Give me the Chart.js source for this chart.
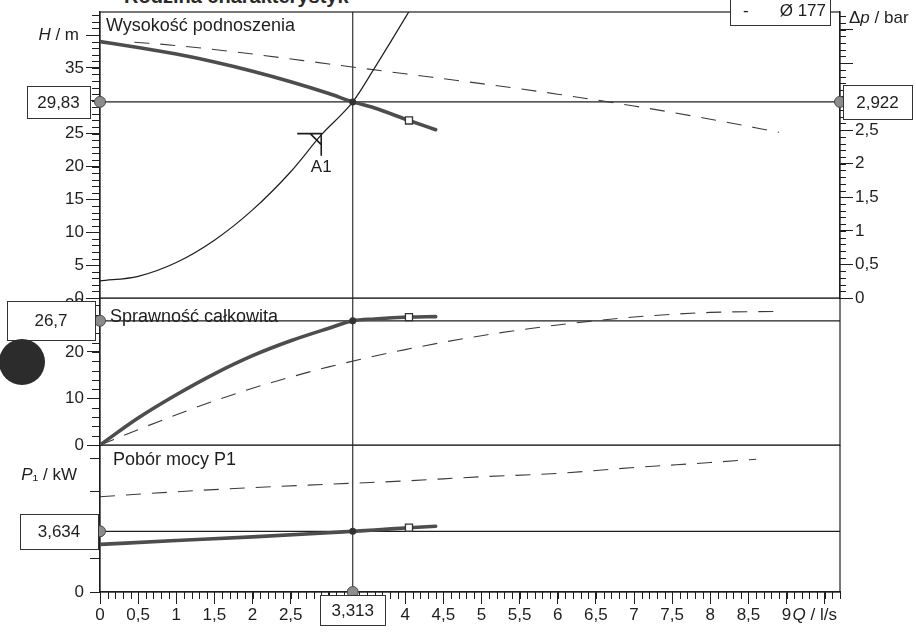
<!DOCTYPE html>
<html lang="pl">
<head>
<meta charset="utf-8">
<title>Rodzina charakterystyk</title>
<script src="https://cdn.jsdelivr.net/npm/chart.js@4.4.1/dist/chart.umd.min.js"></script>
<style>
  html, body { margin: 0; padding: 0; background: #fff; }
  body { position: relative; width: 916px; height: 632px; overflow: hidden; font-family: "Liberation Sans", Arial, sans-serif; }
  canvas { position: absolute; left: 0; }
  #title { position: absolute; left: 124px; top: -15px; font-size: 20px; font-weight: bold; color: #2a2a2a; white-space: nowrap; }
  #hole { position: absolute; left: -1px; top: 339px; width: 46px; height: 46px; border-radius: 50%; background: #2c2c2c; }
</style>
</head>
<body>
<div id="title">Rodzina charakterystyk</div>
<canvas id="chart-h" width="916" height="310" style="top:0"></canvas>
<canvas id="chart-eta" width="916" height="160" style="top:298px"></canvas>
<canvas id="chart-p" width="916" height="187" style="top:445px"></canvas>
<div id="hole"></div>
<script>
const INK = '#1e1e1e';
const CURVE = '#4d4d4d';
const FONT = '"Liberation Sans", Arial, sans-serif';

// axis ranges
const Q_MAX = 9.7;
const H_MAX = 43.5;
const ETA_MAX = 31.6;
const P1_MAX = 8.8;

// operating point and markers
const OP_Q = 3.313;
const OP_H = 29.83;
const OP_DP = 2.922;
const OP_ETA = 26.7;
const OP_P1 = 3.634;
const END_Q = 4.05;
const A1 = [2.9, 25.0];
const IMPELLER = 'Ø 177';
const DP_PER_M = OP_DP / OP_H;

// head H / m
const hQ = [0, 0.5, 1, 1.5, 2, 2.5, 3, 3.313, 3.6, 4.05, 4.4];
const hPump = [39.0, 38.1, 37.1, 35.9, 34.5, 32.9, 31.1, 29.83, 28.9, 27.0, 25.6];
const hMaxQ = [0.45, 1, 2, 3, 4, 5, 6, 7, 8, 8.9];
const hMax = [38.9, 38.4, 37.1, 35.6, 34.1, 32.6, 31.0, 29.2, 27.2, 25.2];
const sysQ = [0, 0.5, 1, 1.5, 2, 2.5, 2.9, 3.313, 3.6, 4.0, 4.15];
const sysH = [2.6, 3.3, 5.4, 8.8, 13.4, 19.2, 24.8, 29.83, 35.0, 42.6, 45.5];

// efficiency eta / %
const etaQ = [0, 0.5, 1, 1.5, 2, 2.5, 3, 3.313, 3.6, 4.05, 4.4];
const etaPump = [0, 5.8, 10.8, 15.3, 19.2, 22.4, 25.1, 26.7, 27.1, 27.5, 27.6];
const etaMaxQ = [0, 0.5, 1, 1.5, 2, 2.5, 3, 4, 5, 6, 7, 8, 8.9];
const etaMax = [0, 3.3, 6.5, 9.5, 12.2, 14.6, 16.8, 20.5, 23.5, 25.8, 27.5, 28.5, 28.7];

// power P1 / kW
const pQ = [0, 1, 2, 3, 3.313, 3.6, 4.05, 4.4];
const pPump = [2.85, 3.08, 3.3, 3.55, 3.634, 3.71, 3.85, 3.94];
const pMaxQ = [0, 1, 2, 3, 4, 5, 6, 7, 8, 8.6];
const pMax = [5.7, 6.0, 6.25, 6.45, 6.65, 6.9, 7.1, 7.45, 7.75, 7.95];

const fmt = v => String(Math.round(v * 1000) / 1000).replace('.', ',');
const pts = (xs, ys) => xs.map((x, i) => ({ x, y: ys[i] }));
const at = (xs, ys, q) => ys[xs.indexOf(q)];

// dataset styles
const solid = data => ({ data, borderColor: CURVE, borderWidth: 3.6, pointRadius: 0, cubicInterpolationMode: 'monotone', borderCapStyle: 'round' });
const dashed = data => ({ data, borderColor: '#3a3a3a', borderWidth: 1.1, borderDash: [15, 11], pointRadius: 0, cubicInterpolationMode: 'monotone' });
const hair = data => ({ data, borderColor: INK, borderWidth: 1.2, pointRadius: 0, cubicInterpolationMode: 'monotone' });
const endSquare = p => ({ data: [p], showLine: false, pointStyle: 'rect', pointRadius: 5, pointBackgroundColor: '#fff', pointBorderColor: '#333', pointBorderWidth: 1.3 });
const opDot = p => ({ data: [p], showLine: false, pointStyle: 'circle', pointRadius: 3.5, pointBackgroundColor: '#333', pointBorderWidth: 0 });
const axisDots = data => ({ data, showLine: false, clip: false, pointStyle: 'circle', pointRadius: 5.5, pointBackgroundColor: '#8c8c8c', pointBorderColor: '#4a4a4a', pointBorderWidth: 1 });

function fixSize(w, h) {
  return scale => {
    if (w) scale.width = w;
    if (h) scale.height = h;
    scale.paddingTop = scale.paddingBottom = scale.paddingLeft = scale.paddingRight = 0;
  };
}

function yAxis(pos, min, max, step, tickLen, pad, width, cb) {
  return {
    type: 'linear', position: pos, min, max,
    afterFit: fixSize(width, 0),
    border: { display: true, color: INK, width: 1.2 },
    grid: { drawOnChartArea: false, drawTicks: true, tickLength: tickLen, color: INK, lineWidth: 1 },
    ticks: { stepSize: step, includeBounds: false, padding: pad, color: INK, font: { family: FONT, size: 17 }, callback: cb }
  };
}

const hiddenX = () => ({ type: 'linear', min: 0, max: Q_MAX, display: false });

function minorTicks(ctx, scale, step, len, side) {
  const a = scale.chart.chartArea;
  ctx.save();
  ctx.strokeStyle = INK;
  ctx.lineWidth = 1;
  ctx.beginPath();
  const n = Math.floor(scale.max / step + 1e-6);
  for (let i = Math.ceil(scale.min / step - 1e-6); i <= n; i++) {
    const p = Math.round(scale.getPixelForValue(i * step)) + 0.5;
    if (side === 'left') { ctx.moveTo(a.left - len, p); ctx.lineTo(a.left, p); }
    else if (side === 'right') { ctx.moveTo(a.right, p); ctx.lineTo(a.right + len, p); }
    else { ctx.moveTo(p, a.bottom); ctx.lineTo(p, a.bottom + len); }
  }
  ctx.stroke();
  ctx.restore();
}

function frame(ctx, a) {
  ctx.save();
  ctx.strokeStyle = INK;
  ctx.lineWidth = 1.2;
  ctx.strokeRect(a.left, a.top, a.right - a.left, a.bottom - a.top);
  ctx.restore();
}

function opLine(chart) {
  const { ctx, chartArea: a, scales: { x } } = chart;
  const px = x.getPixelForValue(OP_Q);
  ctx.save();
  ctx.strokeStyle = INK;
  ctx.lineWidth = 1.1;
  ctx.beginPath();
  ctx.moveTo(px, a.top);
  ctx.lineTo(px, a.bottom);
  ctx.stroke();
  ctx.restore();
}

// text made of plain / italic parts
function label(ctx, parts, x, y, align, size) {
  size = size || 17;
  ctx.save();
  ctx.fillStyle = INK;
  ctx.textBaseline = 'middle';
  ctx.textAlign = 'left';
  const fonts = parts.map(p => (p[1] ? 'italic ' : '') + size + 'px ' + FONT);
  const widths = parts.map((p, i) => { ctx.font = fonts[i]; return ctx.measureText(p[0]).width; });
  const total = widths.reduce((s, w) => s + w, 0);
  let cx = align === 'right' ? x - total : align === 'center' ? x - total / 2 : x;
  parts.forEach((p, i) => { ctx.font = fonts[i]; ctx.fillText(p[0], cx, y); cx += widths[i]; });
  ctx.restore();
}

function box(ctx, text, cx, cy, w, h) {
  ctx.save();
  const x0 = Math.round(cx - w / 2) + 0.5, y0 = Math.round(cy - h / 2) + 0.5;
  ctx.fillStyle = '#fff';
  ctx.fillRect(x0, y0, w, h);
  ctx.strokeStyle = '#333';
  ctx.lineWidth = 1;
  ctx.strokeRect(x0, y0, w, h);
  ctx.restore();
  if (text) label(ctx, [[text, false]], cx, cy + 1, 'center');
}

function makeChart(id, yid, datasets, scales, padding, draw) {
  datasets.forEach(d => { d.yAxisID = yid; });
  return new Chart(document.getElementById(id), {
    type: 'line',
    data: { datasets },
    options: {
      responsive: false,
      animation: false,
      devicePixelRatio: 1,
      layout: { padding, autoPadding: false },
      plugins: { legend: { display: false }, tooltip: { enabled: false } },
      scales
    },
    plugins: [draw]
  });
}

// --- Wysokość podnoszenia ---
makeChart('chart-h', 'yH', [
  opDot({ x: OP_Q, y: OP_H }),
  endSquare({ x: END_Q, y: at(hQ, hPump, END_Q) }),
  axisDots([{ x: 0, y: OP_H }, { x: Q_MAX, y: OP_H }]),
  solid(pts(hQ, hPump)),
  hair(pts(sysQ, sysH)),
  dashed(pts(hMaxQ, hMax)),
  hair([{ x: 0, y: OP_H }, { x: Q_MAX, y: OP_H }])
], {
  x: hiddenX(),
  yH: yAxis('left', 0, H_MAX, 5, 14, 2, 100, v => v >= 40 ? '' : fmt(v)),
  yDp: yAxis('right', 0, H_MAX * DP_PER_M, 0.5, 13, 2, 76, v => v <= 2.5 ? fmt(v) : '')
}, { top: 12, bottom: 12, left: 0, right: 0 }, {
  id: 'panelH',
  beforeDatasetsDraw(chart) {
    const { ctx, chartArea: a, scales } = chart;
    frame(ctx, a);
    minorTicks(ctx, scales.yH, 1, 8, 'left');
    minorTicks(ctx, scales.yDp, 0.1, 6, 'right');
    opLine(chart);
    // duty point A1
    const px = scales.x.getPixelForValue(A1[0]), py = scales.yH.getPixelForValue(A1[1]);
    ctx.save();
    ctx.strokeStyle = INK;
    ctx.lineWidth = 1.6;
    ctx.beginPath();
    ctx.moveTo(px - 24, py); ctx.lineTo(px, py); ctx.lineTo(px, py + 22);
    ctx.moveTo(px - 11, py); ctx.lineTo(px, py + 11);
    ctx.stroke();
    ctx.restore();
    label(ctx, [['A1', false]], px, py + 34, 'center');
  },
  afterDraw(chart) {
    const { ctx, chartArea: a, scales } = chart;
    label(ctx, [['Wysokość podnoszenia', false]], a.left + 6, a.top + 14, 'left', 18);
    label(ctx, [['H', true], [' / m', false]], a.left - 21, scales.yH.getPixelForValue(40), 'right');
    label(ctx, [['Δ', false], ['p', true], [' / bar', false]], a.right + 9, a.top + 6, 'left');
    const yOp = scales.yH.getPixelForValue(OP_H);
    box(ctx, fmt(OP_H), a.left - 41.5, yOp, 63, 32);
    box(ctx, fmt(OP_DP), a.right + 37.5, yOp, 69, 34);
    box(ctx, '', a.right - 60, a.top - 0.5, 100, 27);
    label(ctx, [['-', false]], a.right - 97, a.top - 1, 'left');
    label(ctx, [[IMPELLER, false]], a.right - 14, a.top - 1, 'right');
  }
});

// --- Sprawność całkowita ---
makeChart('chart-eta', 'yE', [
  opDot({ x: OP_Q, y: OP_ETA }),
  endSquare({ x: END_Q, y: at(etaQ, etaPump, END_Q) }),
  axisDots([{ x: 0, y: OP_ETA }]),
  solid(pts(etaQ, etaPump)),
  dashed(pts(etaMaxQ, etaMax)),
  hair([{ x: 0, y: OP_ETA }, { x: Q_MAX, y: OP_ETA }])
], {
  x: hiddenX(),
  yE: yAxis('left', 0, ETA_MAX, 10, 13, 3, 100, v => fmt(v))
}, { top: 0, bottom: 13, left: 0, right: 76 }, {
  id: 'panelEta',
  beforeDatasetsDraw(chart) {
    const { ctx, chartArea: a, scales } = chart;
    frame(ctx, a);
    minorTicks(ctx, scales.yE, 2, 8, 'left');
    opLine(chart);
  },
  afterDraw(chart) {
    const { ctx, chartArea: a, scales } = chart;
    label(ctx, [['Sprawność całkowita', false]], a.left + 10, a.top + 19, 'left', 18);
    box(ctx, fmt(OP_ETA), a.left - 49, scales.yE.getPixelForValue(OP_ETA), 88, 39);
  }
});

// --- Pobór mocy P1 ---
makeChart('chart-p', 'yP', [
  opDot({ x: OP_Q, y: OP_P1 }),
  endSquare({ x: END_Q, y: at(pQ, pPump, END_Q) }),
  axisDots([{ x: 0, y: OP_P1 }, { x: OP_Q, y: 0 }]),
  solid(pts(pQ, pPump)),
  dashed(pts(pMaxQ, pMax)),
  hair([{ x: 0, y: OP_P1 }, { x: Q_MAX, y: OP_P1 }])
], {
  x: {
    type: 'linear', min: 0, max: Q_MAX,
    afterFit: fixSize(0, 40),
    border: { display: true, color: INK, width: 1.2 },
    grid: { drawOnChartArea: false, drawTicks: true, tickLength: 12, color: INK, lineWidth: 1 },
    ticks: { stepSize: 0.5, includeBounds: false, autoSkip: false, maxRotation: 0, padding: 1, color: INK,
      font: { family: FONT, size: 17 }, callback: v => v > 9 ? '' : fmt(v) }
  },
  yP: yAxis('left', 0, P1_MAX, 1, 10, 6, 100, v => v === 0 ? '0' : '')
}, { top: 0, bottom: 0, left: 0, right: 76 }, {
  id: 'panelP',
  beforeDatasetsDraw(chart) {
    const { ctx, chartArea: a, scales } = chart;
    frame(ctx, a);
    minorTicks(ctx, scales.x, 0.1, 7, 'bottom');
    opLine(chart);
  },
  afterDraw(chart) {
    const { ctx, chartArea: a, scales } = chart;
    label(ctx, [['Pobór mocy P1', false]], a.left + 13, a.top + 15, 'left', 18);
    label(ctx, [['P', true], ['₁ / kW', false]], a.left - 23, scales.yP.getPixelForValue(7), 'right');
    label(ctx, [['Q', true], [' / l/s', false]], scales.x.getPixelForValue(9) + 6, a.bottom + 23, 'left');
    box(ctx, fmt(OP_P1), a.left - 41, scales.yP.getPixelForValue(OP_P1), 78, 35);
    box(ctx, fmt(OP_Q), scales.x.getPixelForValue(OP_Q), a.bottom + 18, 65, 30);
  }
});
</script>
</body>
</html>
